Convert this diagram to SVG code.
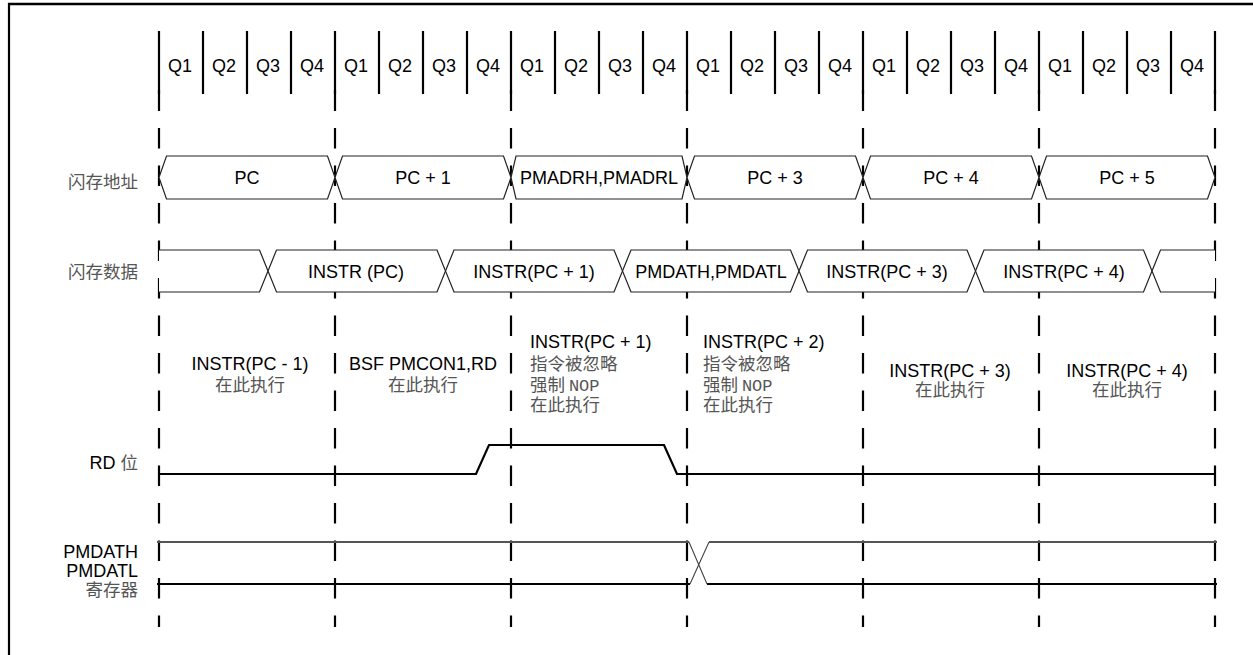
<svg xmlns="http://www.w3.org/2000/svg" width="1253" height="655" viewBox="0 0 1253 655">
<style>
.lat{font-family:"Liberation Sans",Arial,sans-serif;font-size:18px;fill:#000}
.cjk{font-family:"Noto Sans CJK SC",sans-serif;font-size:17.5px;fill:#555}
.mono{font-family:"Liberation Mono","Courier New",monospace;font-size:17px;fill:#555}
.mid{text-anchor:middle}
.end{text-anchor:end}
.q{stroke:#000;stroke-width:2.2;fill:none}
.cyc{stroke:#000;stroke-width:2.2;fill:none;stroke-dasharray:20.5 17}
.bus{stroke:#222;stroke-width:1.2;fill:#fff;stroke-linejoin:miter}
.sig{stroke:#000;stroke-width:2.2;fill:none}
.sig2{stroke:#555;stroke-width:2.2;fill:none}
.thin{stroke:#444;stroke-width:1.1;fill:none}
</style>
<rect width="1253" height="655" fill="#fff"/>
<g id="frame">
<path d="M8,4 H1253" stroke="#000" stroke-width="2.6"/>
<path d="M9,3 V655" stroke="#000" stroke-width="2.2"/>
</g>
<g id="quarters">
<path class="q" d="M159,31V94M203,31V94M247,31V94M291,31V94M335,31V94M379,31V94M423,31V94M467,31V94M511,31V94M555,31V94M599,31V94M643,31V94M687,31V94M731,31V94M775,31V94M819,31V94M863,31V94M907,31V94M951,31V94M995,31V94M1039,31V94M1083,31V94M1127,31V94M1171,31V94M1215,31V94"/>
<g class="lat mid">
<text x="180" y="72">Q1</text><text x="224" y="72">Q2</text><text x="268" y="72">Q3</text><text x="312" y="72">Q4</text>
<text x="356" y="72">Q1</text><text x="400" y="72">Q2</text><text x="444" y="72">Q3</text><text x="488" y="72">Q4</text>
<text x="532" y="72">Q1</text><text x="576" y="72">Q2</text><text x="620" y="72">Q3</text><text x="664" y="72">Q4</text>
<text x="708" y="72">Q1</text><text x="752" y="72">Q2</text><text x="796" y="72">Q3</text><text x="840" y="72">Q4</text>
<text x="884" y="72">Q1</text><text x="928" y="72">Q2</text><text x="972" y="72">Q3</text><text x="1016" y="72">Q4</text>
<text x="1060" y="72">Q1</text><text x="1104" y="72">Q2</text><text x="1148" y="72">Q3</text><text x="1192" y="72">Q4</text>
</g>
</g>
<g id="connectors">
<path class="cyc" d="M159,90.5V627M335,90.5V627M511,90.5V627M687,90.5V627M863,90.5V627M1039,90.5V627M1215,90.5V627"/>
</g>
<g id="labels">
<text class="cjk end" x="138" y="188">闪存地址</text>
<text class="cjk end" x="138" y="278">闪存数据</text>
<text class="lat end" x="138" y="469">RD <tspan class="cjk">位</tspan></text>
<text class="lat end" x="138" y="558">PMDATH</text>
<text class="lat end" x="138" y="577">PMDATL</text>
<text class="cjk end" x="138" y="596">寄存器</text>
</g>
<g id="addr-bus">
<path class="bus" d="M159,177.5L166.5,156H327.5L335,177.5L327.5,199H166.5Z"/>
<path class="bus" d="M335,177.5L342.5,156H503.5L511,177.5L503.5,199H342.5Z"/>
<path class="bus" d="M511,177.5L516,156H682L687,177.5L682,199H516Z"/>
<path class="bus" d="M687,177.5L694.5,156H855.5L863,177.5L855.5,199H694.5Z"/>
<path class="bus" d="M863,177.5L870.5,156H1031.5L1039,177.5L1031.5,199H870.5Z"/>
<path class="bus" d="M1039,177.5L1046.5,156H1207.5L1215,177.5L1207.5,199H1046.5Z"/>
<g class="lat mid">
<text x="247" y="184">PC</text>
<text x="423" y="184">PC + 1</text>
<text x="599" y="184">PMADRH,PMADRL</text>
<text x="775" y="184">PC + 3</text>
<text x="951" y="184">PC + 4</text>
<text x="1127" y="184">PC + 5</text>
</g>
</g>
<g id="data-bus">
<path class="bus" fill="none" d="M159,250H259.5L268,271L259.5,292H159"/>
<path class="bus" d="M268,271L276.5,250H437L445.5,271L437,292H276.5Z"/>
<path class="bus" d="M445.5,271L454,250H614L622.5,271L614,292H454Z"/>
<path class="bus" d="M622.5,271L631,250H790.5L799,271L790.5,292H631Z"/>
<path class="bus" d="M799,271L807.5,250H967L975.5,271L967,292H807.5Z"/>
<path class="bus" d="M975.5,271L984,250H1143.5L1152,271L1143.5,292H984Z"/>
<path class="bus" fill="none" d="M1215,250H1160.5L1152,271L1160.5,292H1215"/>
<g class="lat mid">
<text x="356" y="278">INSTR (PC)</text>
<text x="534" y="278">INSTR(PC + 1)</text>
<text x="711" y="278">PMDATH,PMDATL</text>
<text x="887" y="278">INSTR(PC + 3)</text>
<text x="1064" y="278">INSTR(PC + 4)</text>
</g>
</g>
<g id="exec-1">
<text class="lat mid" x="250" y="370">INSTR(PC - 1)</text>
<text class="cjk mid" x="250" y="391">在此执行</text>
</g>
<g id="exec-2">
<text class="lat mid" x="423" y="370">BSF PMCON1,RD</text>
<text class="cjk mid" x="423" y="391">在此执行</text>
</g>
<g id="exec-3">
<text class="lat" x="530" y="348">INSTR(PC + 1)</text>
<text class="cjk" x="530" y="370">指令被忽略</text>
<text class="cjk" x="530" y="391">强制 <tspan class="mono">NOP</tspan></text>
<text class="cjk" x="530" y="411">在此执行</text>
</g>
<g id="exec-4">
<text class="lat" x="703" y="348">INSTR(PC + 2)</text>
<text class="cjk" x="703" y="370">指令被忽略</text>
<text class="cjk" x="703" y="391">强制 <tspan class="mono">NOP</tspan></text>
<text class="cjk" x="703" y="411">在此执行</text>
</g>
<g id="exec-5">
<text class="lat mid" x="950" y="377">INSTR(PC + 3)</text>
<text class="cjk mid" x="950" y="396">在此执行</text>
</g>
<g id="exec-6">
<text class="lat mid" x="1127" y="377">INSTR(PC + 4)</text>
<text class="cjk mid" x="1127" y="396">在此执行</text>
</g>
<g id="rd-bit">
<path class="sig" d="M158,474H476L489,445H664L677,474H1216"/>
</g>
<g id="pmdat-reg">
<path class="sig2" d="M157,542H689M709,542H1217"/>
<path class="sig" d="M157,584H690M707,584H1217"/>
<path class="thin" d="M689,542L707,584M690,584L709,542"/>
</g>
</svg>
